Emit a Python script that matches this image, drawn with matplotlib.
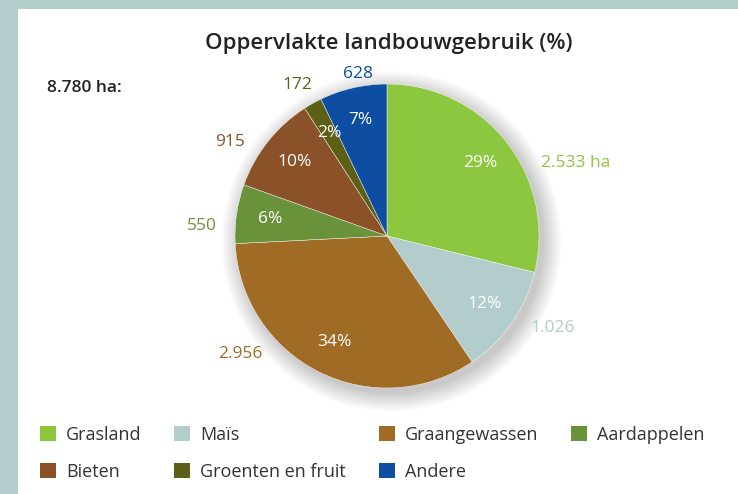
import numpy as np
import matplotlib.pyplot as plt
from matplotlib.patches import Rectangle, Circle

plt.rcParams['font.family'] = ['Open Sans', 'DejaVu Sans']

# landbouwgebruik in ha
categories = ["Grasland", "Maïs", "Graangewassen", "Aardappelen", "Bieten", "Groenten en fruit", "Andere"]
hectares = [2533, 1026, 2956, 550, 915, 172, 628]
value_labels = ["2.533 ha", "1.026", "2.956", "550", "915", "172", "628"]
colors = ["#8dc63f", "#b2cdcb", "#a06c25", "#6a923a", "#8b5229", "#5d5f17", "#0d4ea3"]
total_label = "8.780 ha:"

W, H = 738, 494
fig = plt.figure(figsize=(W / 100, H / 100), dpi=100)
fig.patch.set_facecolor("white")

# frame strips (top and left)
border = "#b2cdcb"
fig.patches.append(Rectangle((0, 1 - 9 / H), 1, 9 / H, transform=fig.transFigure,
                             facecolor=border, edgecolor="none", zorder=0))
fig.patches.append(Rectangle((0, 0), 18 / W, 1, transform=fig.transFigure,
                             facecolor=border, edgecolor="none", zorder=0))

# axes in units of the pie radius: centre at (387, 236) px, radius 152 px
cx, cy, R = 387, 236, 152
ax = fig.add_axes([0, 0, 1, 1])

# soft drop shadow behind the pie
for i in range(18):
    ax.add_patch(Circle((0.03, -0.035), 1.0 + i * 0.007, facecolor="#000000",
                        alpha=0.01, edgecolor="none", zorder=0))

wedges, _ = ax.pie(hectares, colors=colors, startangle=90, counterclock=False,
                   radius=1.0, wedgeprops=dict(edgecolor="white", linewidth=0.3, zorder=2))
ax.set_xlim(-cx / R, (W - cx) / R)
ax.set_ylim((cy - H) / R, cy / R)
ax.axis("off")

total = sum(hectares)
pcts = [v / total * 100 for v in hectares]

# angular shifts and radii so the outer labels clear each other
label_shift = [12.5, -2, 20, -5, -5, 3, 8]
label_radius = [1.12, 1.12, 1.13, 1.12, 1.12, 1.11, 1.07]

start = 0.0
for i, v in enumerate(hectares):
    span = v / total * 360
    mid = start + span / 2
    start += span
    th = np.deg2rad(90 - mid)
    ax.text(0.78 * np.cos(th), 0.78 * np.sin(th), f"{pcts[i]:.0f}%", color="white",
            fontsize=12.5, ha="center", va="center", zorder=3)
    th2 = np.deg2rad(90 - (mid + label_shift[i]))
    x2, y2 = label_radius[i] * np.cos(th2), label_radius[i] * np.sin(th2)
    ax.text(x2, y2, value_labels[i], color=colors[i], fontsize=12.5,
            ha="left" if x2 > 0 else "right", va="center", zorder=3)

fig.text(389 / W, 1 - 43 / H, "Oppervlakte landbouwgebruik (%)", fontsize=16,
         fontweight="semibold", color="#222222", ha="center", va="center")
fig.text(47 / W, 1 - 88 / H, total_label, fontsize=12.5, fontweight="semibold",
         color="#222222", ha="left", va="center")

# legend in row-major order over four columns
handles = [Rectangle((0, 0), 1, 1, facecolor=c, edgecolor="none") for c in colors]
order = [0, 4, 1, 5, 2, 6, 3]
fig.legend([handles[i] for i in order], [categories[i] for i in order],
           loc="upper left", bbox_to_anchor=(40 / W, 1 - 426 / H), ncol=4,
           frameon=False, fontsize=13, handlelength=0.9, handleheight=0.9,
           handletextpad=0.55, columnspacing=1.8, labelspacing=1.05,
           borderaxespad=0, borderpad=0, labelcolor="#333333")

fig.savefig("out.png", dpi=100)
